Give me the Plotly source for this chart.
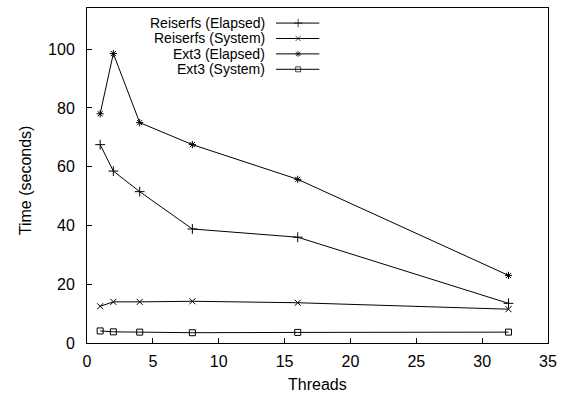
import plotly.graph_objects as go

threads = [1, 2, 4, 8, 16, 32]
reiser_elapsed = [67.5, 58.5, 51.5, 38.8, 36.0, 13.5]
reiser_system = [12.5, 14.0, 14.0, 14.2, 13.7, 11.5]
ext3_elapsed = [78.0, 98.5, 75.0, 67.5, 55.7, 23.0]
ext3_system = [4.1, 3.8, 3.7, 3.5, 3.6, 3.7]

names = ["Reiserfs (Elapsed)", "Reiserfs (System)", "Ext3 (Elapsed)", "Ext3 (System)"]
series = [reiser_elapsed, reiser_system, ext3_elapsed, ext3_system]
symbols = ["cross-thin-open", "x-thin-open", "asterisk-open", "square-open"]
sizes = [7, 6, 6, 6]

FONT = "Liberation Sans, Arial, sans-serif"

fig = go.Figure()
for name, ys, sym, sz in zip(names, series, symbols, sizes):
    fig.add_trace(go.Scatter(
        x=threads, y=ys, mode="lines+markers", name=name,
        line=dict(color="black", width=1),
        marker=dict(symbol=sym, size=sz, color="black", line=dict(color="black", width=1)),
        showlegend=False,
    ))

# manual gnuplot-style legend (text right-aligned, sample to the right)
leg_rows = [0.955, 0.909, 0.863, 0.817]
for name, sym, sz, yy in zip(names, symbols, sizes, leg_rows):
    fig.add_trace(go.Scatter(
        x=[0.41, 0.458, 0.504], y=[yy, yy, yy], xaxis="x2", yaxis="y2",
        mode="lines+markers", showlegend=False, hoverinfo="skip",
        line=dict(color="black", width=1),
        marker=dict(symbol=sym, size=[0, sz - 1, 0], color="black", line=dict(color="black", width=1)),
    ))
    fig.add_annotation(x=0.388, y=yy, xref="x2", yref="y2", text=name, showarrow=False,
                       xanchor="right", yanchor="middle", borderpad=0,
                       font=dict(family=FONT, size=14, color="black"))

fig.add_annotation(x=-0.133, y=0.485, xref="paper", yref="paper", text="Time (seconds)",
                   textangle=-90, showarrow=False, font=dict(family=FONT, size=16, color="black"),
                   xanchor="center", yanchor="middle")
fig.add_annotation(x=0.5, y=-0.094, xref="paper", yref="paper", text="Threads",
                   showarrow=False, font=dict(family=FONT, size=16, color="black"),
                   xanchor="center", yanchor="top")

fig.update_layout(
    width=564, height=393,
    margin=dict(l=87, r=11, t=7, b=50),
    paper_bgcolor="white", plot_bgcolor="white",
    font=dict(family=FONT, size=16, color="black"),
    xaxis=dict(range=[0, 35], dtick=5, tick0=0, showgrid=False, zeroline=False,
               showline=True, mirror=True, linecolor="black", linewidth=1,
               ticks="inside", ticklen=5, tickcolor="black", ticklabelstandoff=4),
    yaxis=dict(range=[0, 114], dtick=20, tick0=0, showgrid=False, zeroline=False,
               showline=True, mirror=True, linecolor="black", linewidth=1,
               ticks="inside", ticklen=5, tickcolor="black", ticklabelstandoff=8),
    xaxis2=dict(range=[0, 1], overlaying="x", visible=False, fixedrange=True),
    yaxis2=dict(range=[0, 1], overlaying="y", visible=False, fixedrange=True),
)

fig.write_html("out.html")
